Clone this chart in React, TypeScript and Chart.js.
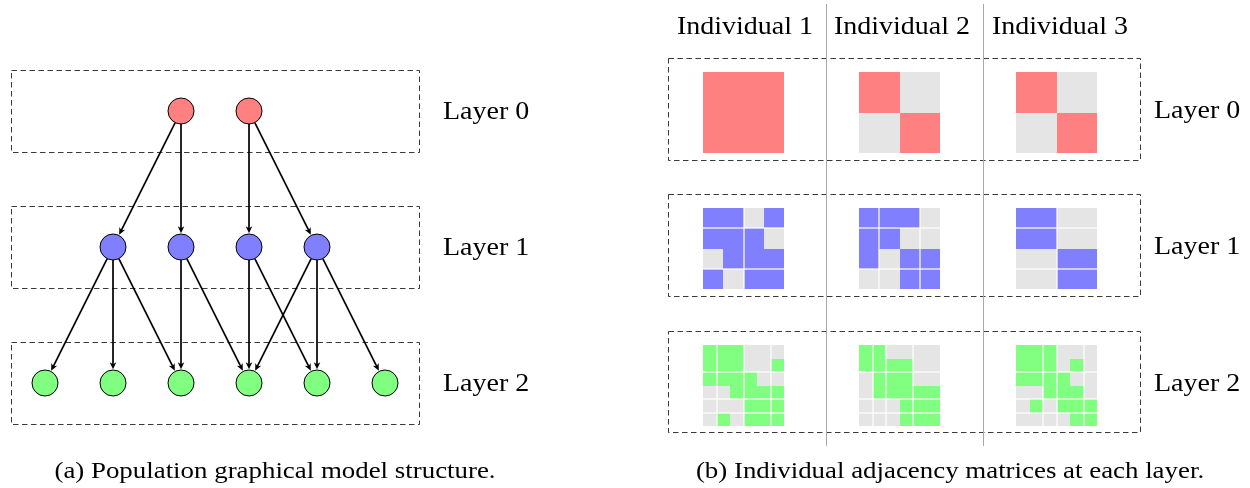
import { useEffect, useRef } from 'react';
import { Chart, registerables } from 'chart.js';

Chart.register(...registerables);

// ---------- data ----------
const layerNames = ['Layer 0', 'Layer 1', 'Layer 2'];
const individuals = ['Individual 1', 'Individual 2', 'Individual 3'];
const nodeCounts = [2, 4, 6];
const layerColors = ['#ff8080', '#8080ff', '#80ff80'];
const emptyColor = '#e5e5e5';
// edges [parentIndex, childIndex]
const edges01 = [[0, 0], [0, 1], [1, 2], [1, 3]];
const edges12 = [[0, 0], [0, 1], [0, 2], [1, 2], [1, 3], [2, 3], [2, 4], [3, 3], [3, 4], [3, 5]];

// adjacency matrices, per layer, per individual
const layer0Matrices = [
  ['11', '11'],
  ['10', '01'],
  ['10', '01'],
];
const layer1Matrices = [
  ['1101', '1110', '0111', '1011'],
  ['1110', '1100', '1011', '0011'],
  ['1100', '1100', '0011', '0011'],
];
const layer2Matrices = [
  ['111000', '111001', '111100', '001111', '000111', '010111'],
  ['110000', '111100', '011100', '011111', '000111', '000111'],
  ['111000', '111010', '111100', '001110', '010111', '000011'],
];
// white separator lines (row / column boundary indices)
const layer0RowLines = [[], [], []];
const layer0ColLines = [[], [], []];
const layer1RowLines = [[1, 3], [1, 3], [1, 3]];
const layer1ColLines = [[2], [1, 3], [2]];
const layer2RowLines = [[2, 4, 5], [2, 4, 5], [2, 4, 5]];
const layer2ColLines = [[1, 3, 5], [1, 2, 4], [2, 3, 5]];

const captionA = '(a) Population graphical model structure.';
const captionB = '(b) Individual adjacency matrices at each layer.';

// ---------- layout ----------
const W = 1250;
const H = 488;
const LEFT_CX = 215;
const NODE_DX = 68;
const NODE_R = 13;
const LAYER_Y = [111, 247, 383];
const LEFT_BOX = { x0: 11, x1: 419, half: 41 };
const LEFT_LABEL_X = 443;
const MAT_SIZE = 81;
const MAT_CX = [743.5, 899.5, 1056.5];
const MAT_TOP = [72, 208, 345];
const RIGHT_BOX = { x0: 668, x1: 1140 };
const RIGHT_BOX_Y = [[58, 160], [194, 296], [331, 432]];
const RIGHT_LABEL_X = 1154;
const SEP_X = [826, 983];
const HEADER_CX = [745, 902, 1060];
const FONT = '"Liberation Serif", serif';
const FONT_SIZE = 25;
const STRETCH = 1.12;

const nodeXs = (n: number) => Array.from({ length: n }, (_, i) => LEFT_CX + (i - (n - 1) / 2) * NODE_DX);

const allMatrices = [layer0Matrices, layer1Matrices, layer2Matrices];
const allRowLines = [layer0RowLines, layer1RowLines, layer2RowLines];
const allColLines = [layer0ColLines, layer1ColLines, layer2ColLines];

const diagramPlugin = {
  id: 'diagram',
  beforeDatasetsDraw(chart: any) {
    const ctx = chart.ctx as CanvasRenderingContext2D;
    const xs = chart.scales.x;
    const ys = chart.scales.y;
    const X = (v: number) => xs.getPixelForValue(v);
    const Y = (v: number) => ys.getPixelForValue(v);
    ctx.save();
    ctx.fillStyle = '#fff';
    ctx.fillRect(0, 0, W, H);

    // dashed boxes
    ctx.setLineDash([5.5, 3.5]);
    ctx.strokeStyle = '#3a3a3a';
    ctx.lineWidth = 1;
    LAYER_Y.forEach((ly) => {
      const x0 = Math.round(X(LEFT_BOX.x0)) + 0.5;
      const x1 = Math.round(X(LEFT_BOX.x1)) + 0.5;
      const y0 = Math.round(Y(ly - LEFT_BOX.half)) + 0.5;
      const y1 = Math.round(Y(ly + LEFT_BOX.half)) + 0.5;
      ctx.strokeRect(x0, y0, x1 - x0, y1 - y0);
    });
    RIGHT_BOX_Y.forEach(([a, b]) => {
      const x0 = Math.round(X(RIGHT_BOX.x0)) + 0.5;
      const x1 = Math.round(X(RIGHT_BOX.x1)) + 0.5;
      const y0 = Math.round(Y(a)) + 0.5;
      const y1 = Math.round(Y(b)) + 0.5;
      ctx.strokeRect(x0, y0, x1 - x0, y1 - y0);
    });
    ctx.setLineDash([]);

    // separators
    ctx.strokeStyle = '#a8a8a8';
    ctx.lineWidth = 1;
    SEP_X.forEach((sx) => {
      ctx.beginPath();
      ctx.moveTo(Math.round(X(sx)) + 0.5, Y(4));
      ctx.lineTo(Math.round(X(sx)) + 0.5, Y(446));
      ctx.stroke();
    });

    // edges with arrows
    const drawEdges = (edges: number[][], L: number) => {
      const px = nodeXs(nodeCounts[L]);
      const cx = nodeXs(nodeCounts[L + 1]);
      edges.forEach(([p, c]) => {
        const x1 = X(px[p]), y1 = Y(LAYER_Y[L]);
        const x2 = X(cx[c]), y2 = Y(LAYER_Y[L + 1]);
        const dx = x2 - x1, dy = y2 - y1;
        const len = Math.hypot(dx, dy);
        const ux = dx / len, uy = dy / len;
        const sx = x1 + ux * NODE_R, sy = y1 + uy * NODE_R;
        const tx = x2 - ux * (NODE_R + 0.8), ty = y2 - uy * (NODE_R + 0.8);
        const hl = 7, hw = 3.3;
        ctx.strokeStyle = '#000';
        ctx.lineWidth = 1.7;
        ctx.beginPath();
        ctx.moveTo(sx, sy);
        ctx.lineTo(tx - ux * hl * 0.6, ty - uy * hl * 0.6);
        ctx.stroke();
        ctx.fillStyle = '#000';
        ctx.beginPath();
        ctx.moveTo(tx, ty);
        ctx.lineTo(tx - ux * hl - uy * hw, ty - uy * hl + ux * hw);
        ctx.lineTo(tx - ux * hl * 0.72, ty - uy * hl * 0.72);
        ctx.lineTo(tx - ux * hl + uy * hw, ty - uy * hl - ux * hw);
        ctx.closePath();
        ctx.fill();
      });
    };
    drawEdges(edges01, 0);
    drawEdges(edges12, 1);

    // matrices
    allMatrices.forEach((mats, L) => {
      mats.forEach((rows, k) => {
        const n = rows.length;
        const left = X(MAT_CX[k] - MAT_SIZE / 2);
        const right = X(MAT_CX[k] + MAT_SIZE / 2);
        const top = Y(MAT_TOP[L]);
        const bottom = Y(MAT_TOP[L] + MAT_SIZE);
        const cw = (right - left) / n;
        const ch = (bottom - top) / n;
        rows.forEach((row, i) => {
          for (let j = 0; j < n; j++) {
            const xa = Math.round(left + j * cw);
            const xb = Math.round(left + (j + 1) * cw);
            const ya = Math.round(top + i * ch);
            const yb = Math.round(top + (i + 1) * ch);
            ctx.fillStyle = row[j] === '1' ? layerColors[L] : emptyColor;
            ctx.fillRect(xa, ya, xb - xa, yb - ya);
          }
        });
        ctx.fillStyle = '#fff';
        allRowLines[L][k].forEach((r) => {
          const y = Math.round(top + r * ch);
          ctx.fillRect(Math.round(left), y - 0.6, Math.round(right) - Math.round(left), 1.2);
        });
        allColLines[L][k].forEach((c) => {
          const x = Math.round(left + c * cw);
          ctx.fillRect(x - 0.6, Math.round(top), 1.2, Math.round(bottom) - Math.round(top));
        });
      });
    });
    ctx.restore();
  },
  afterDraw(chart: any) {
    const ctx = chart.ctx as CanvasRenderingContext2D;
    const xs = chart.scales.x;
    const ys = chart.scales.y;
    const X = (v: number) => xs.getPixelForValue(v);
    const Y = (v: number) => ys.getPixelForValue(v);
    const text = (s: string, x: number, y: number, align: CanvasTextAlign, size = FONT_SIZE) => {
      ctx.save();
      ctx.translate(X(x), Y(y));
      ctx.scale(STRETCH, 1);
      ctx.font = `${size}px ${FONT}`;
      ctx.fillStyle = '#000';
      ctx.textAlign = align;
      ctx.textBaseline = 'alphabetic';
      ctx.fillText(s, 0, 0);
      ctx.restore();
    };
    layerNames.forEach((name, L) => {
      text(name, LEFT_LABEL_X, LAYER_Y[L] + 8, 'left');
      const [a, b] = RIGHT_BOX_Y[L];
      text(name, RIGHT_LABEL_X, (a + b) / 2 + 9, 'left');
    });
    individuals.forEach((name, k) => text(name, HEADER_CX[k], 34, 'center'));
    text(captionA, 275, 478, 'center', 24);
    text(captionB, 950, 478, 'center', 24);
  },
};

export default function App() {
  const ref = useRef<HTMLCanvasElement | null>(null);
  useEffect(() => {
    document.body.style.margin = '0';
    const canvas = ref.current;
    if (!canvas) return;
    const chart = new Chart(canvas, {
      type: 'scatter',
      data: {
        datasets: nodeCounts.map((n, L) => ({
          label: layerNames[L],
          data: nodeXs(n).map((x) => ({ x, y: LAYER_Y[L] })),
          pointRadius: NODE_R,
          pointHoverRadius: NODE_R,
          pointBackgroundColor: layerColors[L],
          pointBorderColor: '#000',
          pointBorderWidth: 1,
          showLine: false,
        })),
      },
      options: {
        responsive: false,
        animation: false,
        events: [],
        devicePixelRatio: 1,
        layout: { padding: 0, autoPadding: false },
        plugins: { legend: { display: false }, tooltip: { enabled: false }, title: { display: false } },
        scales: {
          x: { type: 'linear', display: false, min: 0, max: W },
          y: { type: 'linear', display: false, min: 0, max: H, reverse: true },
        },
      },
      plugins: [diagramPlugin],
    } as any);
    return () => chart.destroy();
  }, []);
  return (
    <div style={{ position: 'absolute', left: 0, top: 0, width: W, height: H, background: '#fff' }}>
      <canvas ref={ref} width={W} height={H} style={{ display: 'block' }} />
    </div>
  );
}
